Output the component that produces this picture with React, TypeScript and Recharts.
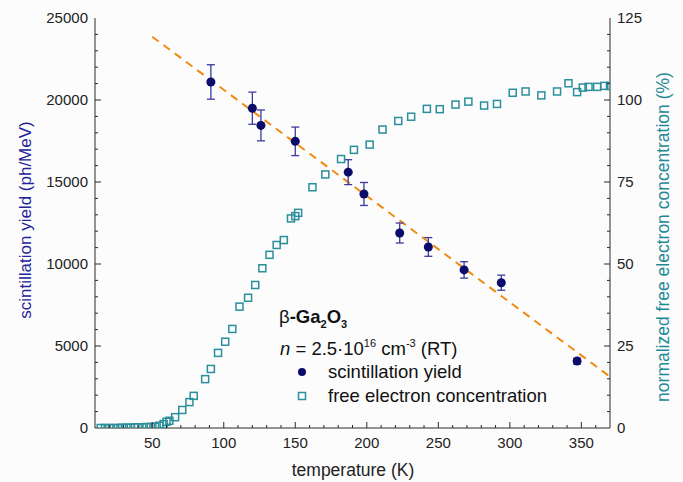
import React from 'react';
import { ComposedChart, Scatter, Line, XAxis, YAxis, ErrorBar } from 'recharts';

// scintillation yield vs temperature
const yieldTemp = [91, 120, 126, 150, 187, 198, 223, 243, 268, 294, 347];
const yieldValue = [21100, 19500, 18450, 17480, 15600, 14270, 11890, 11040, 9640, 8860, 4080];
const yieldError = [1050, 980, 940, 870, 760, 700, 610, 570, 500, 460, 180];

// linear guide (dashed orange)
const fitTemp = [50, 370];
const fitValue = [23860, 3130];

// normalized free electron concentration (%)
const feTemp = [
  14, 17, 20, 23, 26, 29, 32, 35, 38, 40, 43, 46, 49, 52, 55, 58, 60, 62, 66, 71, 76, 79, 87, 91, 96,
  101, 106, 111, 117, 122, 127, 132, 137, 142, 147, 150, 152, 162, 171, 182, 191, 202, 211, 222, 231,
  242, 251, 262, 271, 282, 291, 302, 311, 322, 333, 341, 347, 351, 355, 361, 366, 370,
];
const feConc = [
  0, 0, 0, 0, 0, 0.1, 0.1, 0.1, 0.2, 0.2, 0.2, 0.3, 0.3, 0.4, 0.7, 1.2, 1.9, 2.2, 3.3, 5.5, 7.9, 9.8,
  14.9, 18.0, 22.9, 26.3, 30.2, 37.0, 39.7, 43.6, 48.7, 52.8, 55.8, 57.3, 63.9, 64.6, 65.6, 73.4, 77.3,
  82.0, 84.8, 86.4, 91.0, 93.6, 94.9, 97.3, 97.2, 98.6, 99.5, 98.3, 98.8, 102.2, 102.6, 101.4, 102.6,
  105.1, 102.4, 103.8, 104.0, 104.0, 104.3, 104.3,
];

const xTicks = [
  10, 20, 30, 40, 50, 60, 70, 80, 90, 100, 110, 120, 130, 140, 150, 160, 170, 180, 190, 200, 210, 220,
  230, 240, 250, 260, 270, 280, 290, 300, 310, 320, 330, 340, 350, 360, 370,
];
const leftTicks = [
  0, 1000, 2000, 3000, 4000, 5000, 6000, 7000, 8000, 9000, 10000, 11000, 12000, 13000, 14000, 15000,
  16000, 17000, 18000, 19000, 20000, 21000, 22000, 23000, 24000, 25000,
];
const rightTicks = [
  0, 5, 10, 15, 20, 25, 30, 35, 40, 45, 50, 55, 60, 65, 70, 75, 80, 85, 90, 95, 100, 105, 110, 115, 120, 125,
];

const scintData = yieldTemp.map((t, i) => ({ t, y: yieldValue[i], err: yieldError[i] }));
const fitData = fitTemp.map((t, i) => ({ t, y: fitValue[i] }));
const feData = feTemp.map((t, i) => ({ t, c: feConc[i] }));

const FONT = '"Liberation Sans", Arial, sans-serif';
const AXIS = '#2a2a2a';
const NAVY = '#0b0b6b';
const TEAL = '#2a8f9c';

const BottomTick = (props: any) => {
  const { x, y, payload } = props;
  const v = payload.value;
  const major = v % 50 === 0;
  if (v === 10 || v === 370) return <g />;
  return (
    <g>
      <line x1={x} y1={y} x2={x} y2={y - (major ? 6 : 3)} stroke={AXIS} />
      {major && (
        <text x={x} y={y + 20} textAnchor="middle" fontSize={15} fontFamily={FONT} fill="#222">
          {v}
        </text>
      )}
    </g>
  );
};

const TopTick = (props: any) => {
  const { x, y, payload } = props;
  const v = payload.value;
  if (v === 10 || v === 370) return <g />;
  return <line x1={x} y1={y} x2={x} y2={y + (v % 50 === 0 ? 6 : 3)} stroke={AXIS} />;
};

const LeftTick = (props: any) => {
  const { x, y, payload } = props;
  const v = payload.value;
  const major = v % 5000 === 0;
  return (
    <g>
      {v !== 0 && v !== 25000 && <line x1={x} y1={y} x2={x + (major ? 6 : 3)} y2={y} stroke={AXIS} />}
      {major && (
        <text x={x - 7} y={y + 5} textAnchor="end" fontSize={15} fontFamily={FONT} fill="#222">
          {v}
        </text>
      )}
    </g>
  );
};

const RightTick = (props: any) => {
  const { x, y, payload } = props;
  const v = payload.value;
  const major = v % 25 === 0;
  return (
    <g>
      {v !== 0 && v !== 125 && <line x1={x} y1={y} x2={x - (major ? 6 : 3)} y2={y} stroke={AXIS} />}
      {major && (
        <text x={x + 7} y={y + 5} textAnchor="start" fontSize={15} fontFamily={FONT} fill="#222">
          {v}
        </text>
      )}
    </g>
  );
};

const Dot = (props: any) => <circle cx={props.cx} cy={props.cy} r={4.5} fill={NAVY} />;
const Square = (props: any) => (
  <rect x={props.cx - 3.5} y={props.cy - 3.5} width={7} height={7} fill="none" stroke={TEAL} strokeWidth={1.5} />
);

export default function App() {
  return (
    <div style={{ position: 'absolute', left: 0, top: 0, width: 683, height: 482, background: '#fcfcfc' }}>
      <ComposedChart width={683} height={482} data={feData} margin={{ top: 18, right: 0, bottom: 0, left: 0 }}>
        <XAxis
          dataKey="t"
          type="number"
          domain={[10, 370]}
          allowDataOverflow
          ticks={xTicks}
          interval={0}
          tickSize={0}
          tickMargin={0}
          tick={BottomTick}
          tickLine={false}
          height={54}
          stroke={AXIS}
        />
        <XAxis
          xAxisId="top"
          orientation="top"
          dataKey="t"
          type="number"
          domain={[10, 370]}
          allowDataOverflow
          ticks={xTicks}
          interval={0}
          tickSize={0}
          tickMargin={0}
          tick={TopTick}
          tickLine={false}
          height={0}
          stroke={AXIS}
        />
        <YAxis
          yAxisId="left"
          type="number"
          domain={[0, 25000]}
          allowDataOverflow
          ticks={leftTicks}
          interval={0}
          tickSize={0}
          tickMargin={0}
          tick={LeftTick}
          tickLine={false}
          width={95}
          stroke={AXIS}
        />
        <YAxis
          yAxisId="right"
          orientation="right"
          type="number"
          domain={[0, 125]}
          allowDataOverflow
          ticks={rightTicks}
          interval={0}
          tickSize={0}
          tickMargin={0}
          tick={RightTick}
          tickLine={false}
          width={73}
          stroke={AXIS}
        />
        <Scatter
          yAxisId="right"
          data={feData}
          dataKey="c"
          shape={Square}
          isAnimationActive={false}
        />
        <Line
          yAxisId="left"
          data={fitData}
          dataKey="y"
          type="linear"
          stroke="#f08a12"
          strokeWidth={2}
          strokeDasharray="8 6"
          dot={false}
          activeDot={false}
          isAnimationActive={false}
        />
        <Scatter yAxisId="left" data={scintData} dataKey="y" shape={Dot} isAnimationActive={false}>
          <ErrorBar dataKey="err" direction="y" width={4} stroke="#3a3a9e" strokeWidth={1.3} />
        </Scatter>
      </ComposedChart>
      <svg
        width={683}
        height={482}
        style={{ position: 'absolute', left: 0, top: 0, pointerEvents: 'none' }}
        fontFamily={FONT}
      >
        <text
          transform="translate(25,220) rotate(-90)"
          textAnchor="middle"
          dominantBaseline="central"
          fontSize={17}
          fill="#23239a"
        >
          scintillation yield (ph/MeV)
        </text>
        <text
          transform="translate(663,237) rotate(-90)"
          textAnchor="middle"
          dominantBaseline="central"
          fontSize={17.5}
          fill="#1f8a96"
        >
          normalized free electron concentration (%)
        </text>
        <text x={353} y={476} textAnchor="middle" fontSize={17.5} fill="#222">
          temperature (K)
        </text>

        <text x={279} y={323} fontSize={18.5} fill="#111">
          β<tspan fontWeight="bold">-Ga</tspan>
          <tspan fontWeight="bold" fontSize={11} dy={5}>2</tspan>
          <tspan fontWeight="bold" dy={-5}>O</tspan>
          <tspan fontWeight="bold" fontSize={11} dy={5}>3</tspan>
        </text>
        <text x={280} y={355} fontSize={18.5} fill="#111">
          <tspan fontStyle="italic">n</tspan> = 2.5·10
          <tspan fontSize={11} dy={-8}>16</tspan>
          <tspan dy={8}> cm</tspan>
          <tspan fontSize={11} dy={-8}>-3</tspan>
          <tspan dy={8}> (RT)</tspan>
        </text>
        <circle cx={302} cy={372} r={4} fill={NAVY} />
        <text x={328} y={378} fontSize={18.5} fill="#111">
          scintillation yield
        </text>
        <rect x={298.5} y={392.5} width={7} height={7} fill="none" stroke={TEAL} strokeWidth={1.5} />
        <text x={328} y={402} fontSize={18.5} fill="#111">
          free electron concentration
        </text>
      </svg>
    </div>
  );
}
